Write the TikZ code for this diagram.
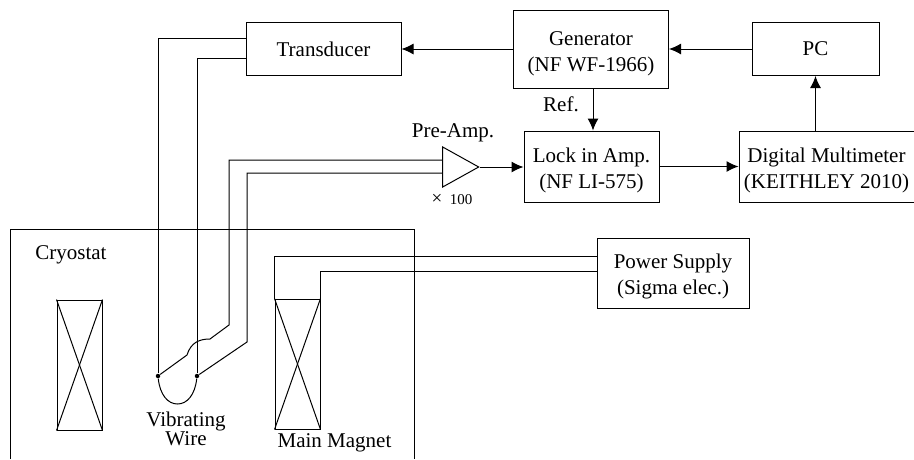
\documentclass[tikz,border=0pt]{standalone}
\usepackage{fontspec}
\setmainfont{Liberation Serif}
\usepackage{tikz}
\usetikzlibrary{arrows.meta,positioning,calc,shapes.geometric}

\begin{document}
\begin{tikzpicture}[
  x=1pt,y=1pt,
  line width=1pt,
  every node/.style={font=\fontsize{21}{26}\selectfont},
  box/.style={
    draw,align=center,inner sep=0pt,
    minimum width=#1
  },
  twoline/.style={text height=48.5pt},
  coil/.style={draw,minimum width=45pt,minimum height=130pt,inner sep=0pt},
  dot/.style={circle,fill,inner sep=0pt,minimum size=4.5pt},
  arr/.style={-{Latex[length=12pt,width=11pt]}}
]
  \useasboundingbox (0,0) rectangle (914,-459);

  % top row
  \node[box=155pt,twoline,minimum height=78pt] (generator) at (591,-49) {Generator\\(NF WF-1966)};
  \node[box=155pt,minimum height=53pt,left=111.5pt of generator] (transducer) {Transducer};
  \node[box=127pt,minimum height=53pt,right=82.5pt of generator] (pc) {PC};

  % second row
  \node[box=135pt,twoline,minimum height=71pt] (lockin) at (591.5,-166.5) {Lock in Amp.\\(NF LI-575)};
  \node[box=175pt,twoline,minimum height=71pt,right=79pt of lockin] (multimeter) {Digital Multimeter\\(KEITHLEY 2010)};
  \node[draw,isosceles triangle,isosceles triangle stretches,shape border rotate=0,
    minimum width=40pt,minimum height=36pt,inner sep=0pt,anchor=apex] (preamp) at (480,-167) {};

  \node[box=152pt,twoline,minimum height=70pt] (supply) at (673,-273) {Power Supply\\(Sigma elec.)};

  % cryostat
  \draw (10,-459) |- (414,-229) -- (414,-459);
  \node[coil] (coilL) at (79.5,-365) {};
  \node[coil] (magnet) at (297.5,-364) {};
  \foreach \c in {coilL,magnet}{
    \draw (\c.north west) -- (\c.south east);
    \draw (\c.north east) -- (\c.south west);
  }

  % vibrating wire
  \node[dot] (wireL) at (158,-376) {};
  \node[dot] (wireR) at (197,-376) {};
  \draw (wireL) .. controls (160,-395) and (168,-404) .. (177.5,-404)
    .. controls (187,-404) and (195,-395) .. (wireR);
  \draw ([yshift=11pt]transducer.west) -| (wireL);
  \draw ([yshift=-9pt]transducer.west) -| (wireR);
  \draw ([yshift=7pt]preamp.lower side) -| (229,-325) -- (210,-339)
    .. controls (200,-339) and (191,-342) .. (187,-355) -- (wireL);
  \draw ([yshift=-6pt]preamp.lower side) -| (247,-342) -- (wireR);

  % magnet leads
  \draw ([yshift=17pt]supply.west) -| (magnet.north west);
  \draw ([yshift=2pt]supply.west) -| (magnet.north east);

  % signal path
  \draw[arr] (generator) -- (transducer);
  \draw[arr] (pc) -- (generator);
  \draw[arr] ([xshift=2pt]generator.south) -- ([xshift=1.5pt]lockin.north);
  \draw[arr] (preamp.apex) -- (preamp.apex -| lockin.west);
  \draw[arr] (lockin) -- (multimeter);
  \draw[arr] (multimeter.north -| pc) -- (pc);

  % labels
  \node (reflabel) at (561,-104) {Ref.};
  \node (preamplabel) at (453,-133) {Pre-Amp.};
  \node[font=\fontsize{15}{17}\selectfont] (gainlabel) at (452,-199) {{\fontsize{19}{17}\selectfont ×}\ \ 100};
  \node (cryolabel) at (71,-255) {Cryostat};
  \node[align=center] (wirelabel) at (186,-429) {Vibrating\\[-7pt]Wire};
  \node (magnetlabel) at (334.5,-443) {Main Magnet};
\end{tikzpicture}
\end{document}
